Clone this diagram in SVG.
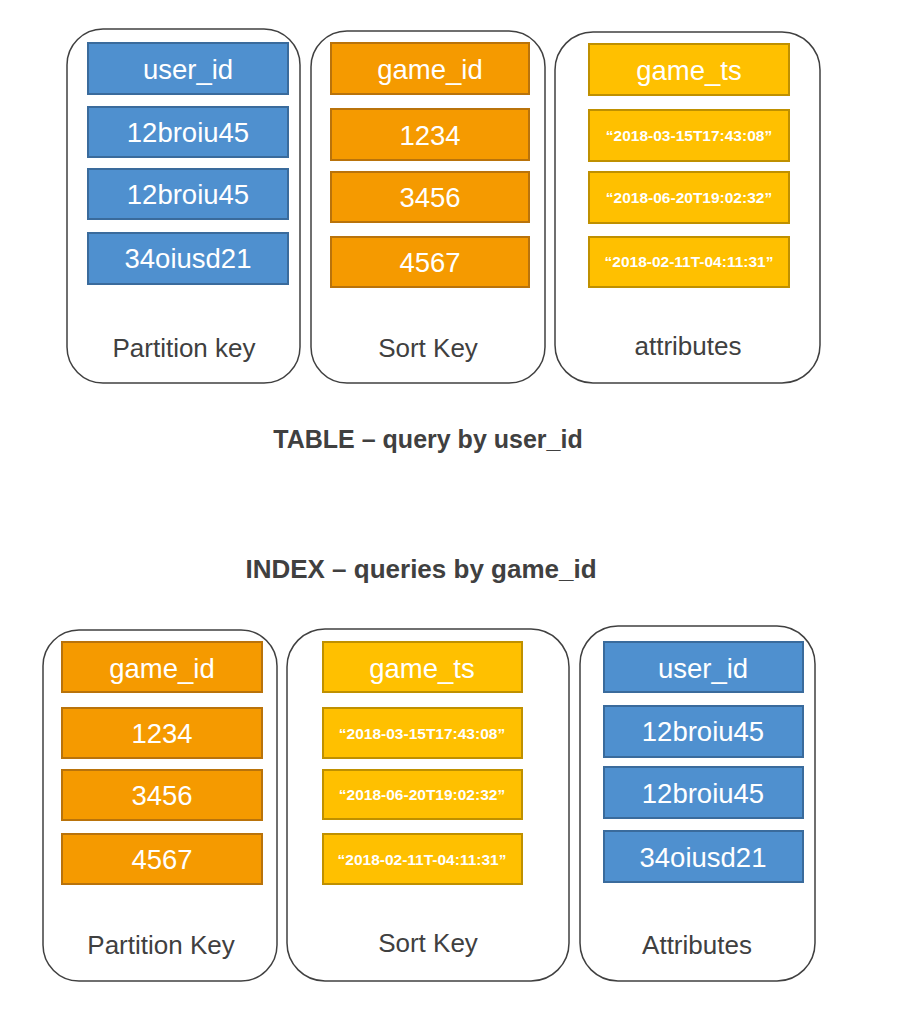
<svg xmlns="http://www.w3.org/2000/svg" width="908" height="1025" viewBox="0 0 908 1025">
<style>
.col{fill:#fff;stroke:#404040;stroke-width:1.5}
.blue{fill:#4F90CF;stroke:#3A6B9C;stroke-width:2}
.orange{fill:#F59A00;stroke:#B9730B;stroke-width:2}
.yellow{fill:#FFC000;stroke:#BF9000;stroke-width:2}
.t{font-family:"Liberation Sans",Arial,sans-serif;font-size:27.5px;fill:#fff;text-anchor:middle}
.d{font-family:"Liberation Sans",Arial,sans-serif;font-size:15.5px;font-weight:bold;fill:#fff;text-anchor:middle}
.lbl{font-family:"Liberation Sans",Arial,sans-serif;font-size:26px;fill:#404040;text-anchor:middle}
.title{font-family:"Liberation Sans",Arial,sans-serif;font-size:25px;font-weight:bold;fill:#404040;text-anchor:middle}
</style>
<rect width="908" height="1025" fill="#fff"/>

<g id="table-partition-key">
<rect class="col" x="67" y="29" width="233" height="354" rx="36"/>
<rect class="blue" x="88" y="43" width="200" height="51"/>
<text class="t" x="188" y="79">user_id</text>
<rect class="blue" x="88" y="107" width="200" height="50"/>
<text class="t" x="188" y="142">12broiu45</text>
<rect class="blue" x="88" y="169" width="200" height="50"/>
<text class="t" x="188" y="204">12broiu45</text>
<rect class="blue" x="88" y="233" width="200" height="51"/>
<text class="t" x="188" y="268">34oiusd21</text>
<text class="lbl" x="184" y="357">Partition key</text>
</g>

<g id="table-sort-key">
<rect class="col" x="311" y="31" width="234" height="352" rx="36"/>
<rect class="orange" x="331" y="43" width="198" height="51"/>
<text class="t" x="430" y="79">game_id</text>
<rect class="orange" x="331" y="109" width="198" height="51"/>
<text class="t" x="430" y="145">1234</text>
<rect class="orange" x="331" y="172" width="198" height="50"/>
<text class="t" x="430" y="207">3456</text>
<rect class="orange" x="331" y="237" width="198" height="50"/>
<text class="t" x="430" y="272">4567</text>
<text class="lbl" x="428" y="357">Sort Key</text>
</g>

<g id="table-attributes">
<rect class="col" x="555" y="32" width="265" height="351" rx="38"/>
<rect class="yellow" x="589" y="44" width="200" height="51"/>
<text class="t" x="689" y="80">game_ts</text>
<rect class="yellow" x="589" y="110" width="200" height="51"/>
<text class="d" x="689" y="141">“2018-03-15T17:43:08”</text>
<rect class="yellow" x="589" y="172" width="200" height="51"/>
<text class="d" x="689" y="203">“2018-06-20T19:02:32”</text>
<rect class="yellow" x="589" y="237" width="200" height="50"/>
<text class="d" x="689" y="267">“2018-02-11T-04:11:31”</text>
<text class="lbl" x="688" y="355">attributes</text>
</g>

<g id="titles">
<text class="title" x="428" y="448">TABLE – query by user_id</text>
<text class="title" x="421" y="578" style="font-size:26px">INDEX – queries by game_id</text>
</g>

<g id="index-partition-key">
<rect class="col" x="43" y="630" width="234" height="351" rx="36"/>
<rect class="orange" x="62" y="642" width="200" height="50"/>
<text class="t" x="162" y="678">game_id</text>
<rect class="orange" x="62" y="708" width="200" height="50"/>
<text class="t" x="162" y="743">1234</text>
<rect class="orange" x="62" y="770" width="200" height="50"/>
<text class="t" x="162" y="805">3456</text>
<rect class="orange" x="62" y="834" width="200" height="50"/>
<text class="t" x="162" y="869">4567</text>
<text class="lbl" x="161" y="954">Partition Key</text>
</g>

<g id="index-sort-key">
<rect class="col" x="287" y="629" width="282" height="352" rx="38"/>
<rect class="yellow" x="323" y="642" width="199" height="50"/>
<text class="t" x="422" y="678">game_ts</text>
<rect class="yellow" x="323" y="708" width="199" height="50"/>
<text class="d" x="422" y="739">“2018-03-15T17:43:08”</text>
<rect class="yellow" x="323" y="770" width="199" height="49"/>
<text class="d" x="422" y="800">“2018-06-20T19:02:32”</text>
<rect class="yellow" x="323" y="834" width="199" height="50"/>
<text class="d" x="422" y="865">“2018-02-11T-04:11:31”</text>
<text class="lbl" x="428" y="952">Sort Key</text>
</g>

<g id="index-attributes">
<rect class="col" x="580" y="626" width="235" height="355" rx="38"/>
<rect class="blue" x="604" y="642" width="199" height="50"/>
<text class="t" x="703" y="678">user_id</text>
<rect class="blue" x="604" y="706" width="199" height="51"/>
<text class="t" x="703" y="741">12broiu45</text>
<rect class="blue" x="604" y="767" width="199" height="51"/>
<text class="t" x="703" y="803">12broiu45</text>
<rect class="blue" x="604" y="831" width="199" height="51"/>
<text class="t" x="703" y="867">34oiusd21</text>
<text class="lbl" x="697" y="954">Attributes</text>
</g>

<g id="connectors"></g>
</svg>
